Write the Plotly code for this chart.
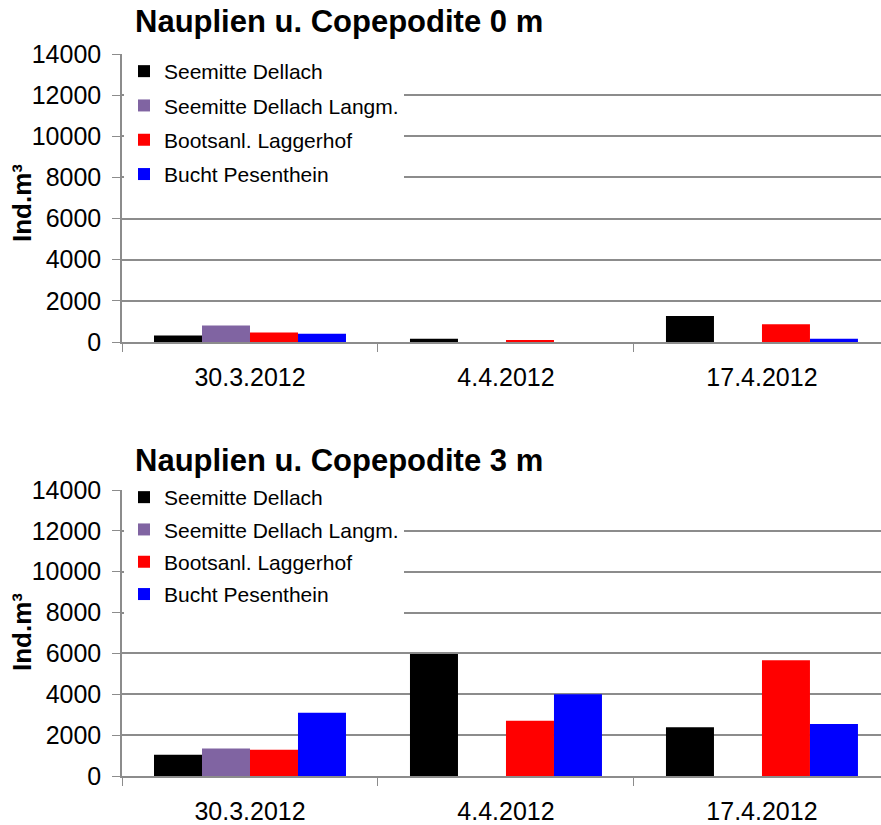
"""Nauplien u. Copepodite - grouped bars at 0 m and 3 m."""

import plotly.graph_objects as go
from plotly.subplots import make_subplots

dates = ["30.3.2012", "4.4.2012", "17.4.2012"]
series_names = [
    "Seemitte Dellach",
    "Seemitte Dellach Langm.",
    "Bootsanl. Laggerhof",
    "Bucht Pesenthein",
]
series_colors = ["#000000", "#8064A2", "#FF0000", "#0000FF"]

# 0 m
dellach_0m = [320, 160, 1260]
langm_0m = [800, None, None]
laggerhof_0m = [460, 80, 860]
pesenthein_0m = [400, None, 160]

# 3 m
dellach_3m = [1040, 5970, 2390]
langm_3m = [1350, None, None]
laggerhof_3m = [1280, 2710, 5660]
pesenthein_3m = [3100, 4000, 2550]

values_0m = [dellach_0m, langm_0m, laggerhof_0m, pesenthein_0m]
values_3m = [dellach_3m, langm_3m, laggerhof_3m, pesenthein_3m]

FONT = "Liberation Sans, Arial, sans-serif"
GRID = "#8C8C8C"
W, H = 881, 825
L, R = 122, 0

fig = make_subplots(rows=2, cols=1)

for i, name in enumerate(series_names):
    fig.add_trace(
        go.Bar(x=dates, y=values_0m[i], name=name, marker_color=series_colors[i],
               marker_line_width=0, legend="legend", legendgroup=f"a{i}"),
        row=1, col=1,
    )
    fig.add_trace(
        go.Bar(x=dates, y=values_3m[i], name=name, marker_color=series_colors[i],
               marker_line_width=0, legend="legend2", legendgroup=f"b{i}"),
        row=2, col=1,
    )


def py(px):
    return 1 - px / H


def px_x(px):
    return (px - L) / (W - L - R)


# the chart is cut at the right edge, third category only partly shown
fig.update_xaxes(
    type="category", range=[-0.5, 2.465], showline=True, linecolor=GRID,
    linewidth=1.5, ticks="outside", tickson="boundaries", ticklen=8,
    tickcolor=GRID, tickfont=dict(family=FONT, size=25, color="black"),
    showgrid=False, automargin=False, ticklabelstandoff=12,
)
fig.update_yaxes(
    range=[0, 14000], dtick=2000, tickformat="d", showline=True,
    linecolor=GRID, linewidth=1.5, ticks="outside", ticklen=8, tickcolor=GRID,
    tickfont=dict(family=FONT, size=25, color="black"),
    showgrid=True, gridcolor=GRID, gridwidth=1.5, zeroline=False,
    automargin=False, ticklabelstandoff=6,
)
fig.update_yaxes(domain=[py(342), py(54)], row=1, col=1)
fig.update_yaxes(domain=[py(776), py(490)], row=2, col=1)

legend_style = dict(
    bgcolor="white", borderwidth=0, font=dict(family=FONT, size=21, color="black"),
    traceorder="grouped", itemwidth=30,
    xanchor="left", yanchor="top", itemclick=False,
)

fig.update_layout(
    width=W, height=H,
    barmode="group", bargap=0.25, bargroupgap=0,
    plot_bgcolor="white", paper_bgcolor="white",
    margin=dict(l=L, r=R, t=0, b=0),
    legend=dict(x=px_x(124), y=py(51), tracegroupgap=4, **legend_style),
    legend2=dict(x=px_x(124), y=py(477), tracegroupgap=2, **legend_style),
    annotations=[
        dict(text="<b>Nauplien u. Copepodite 0 m</b>", x=px_x(133), y=py(22),
             xref="paper", yref="paper", xanchor="left", yanchor="middle",
             showarrow=False, font=dict(family=FONT, size=31, color="black")),
        dict(text="<b>Nauplien u. Copepodite 3 m</b>", x=px_x(133), y=py(460),
             xref="paper", yref="paper", xanchor="left", yanchor="middle",
             showarrow=False, font=dict(family=FONT, size=31, color="black")),
        dict(text="<b>Ind.m³</b>", x=px_x(22), y=py(203), textangle=-90,
             xref="paper", yref="paper", xanchor="center", yanchor="middle",
             showarrow=False, font=dict(family=FONT, size=26, color="black")),
        dict(text="<b>Ind.m³</b>", x=px_x(22), y=py(632), textangle=-90,
             xref="paper", yref="paper", xanchor="center", yanchor="middle",
             showarrow=False, font=dict(family=FONT, size=26, color="black")),
    ],
)

# drop the default page margin so the figure fills the window exactly
fig.write_html(
    "out.html",
    config={"displayModeBar": False},
    post_script="document.body.style.margin='0';",
)
